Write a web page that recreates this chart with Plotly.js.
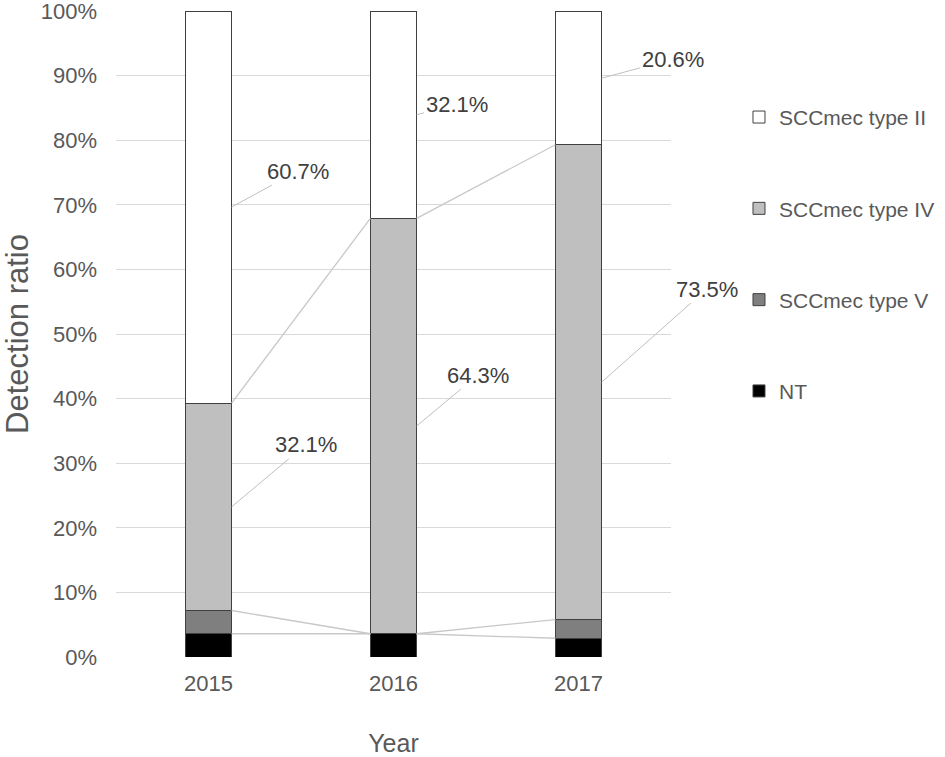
<!DOCTYPE html>
<html>
<head>
<meta charset="utf-8">
<script src="https://cdn.plot.ly/plotly-3.0.1.min.js"></script>
<style>
  html, body { margin: 0; padding: 0; background: #fff; }
  #chart { width: 945px; height: 757px; }
</style>
</head>
<body>
<div id="chart"></div>
<script>
// Detection ratio of SCCmec types per year (percent of isolates).
const years = ["2015", "2016", "2017"];
const seriesNames = ["NT", "SCCmec type V", "SCCmec type IV", "SCCmec type II"];
const ntVals = [3.6, 3.6, 2.9];
const typeVVals = [3.6, 0, 2.9];
const typeIVVals = [32.1, 64.3, 73.5];
const typeIIVals = [60.7, 32.1, 20.6];
const labelled = [2, 3]; // series that carry value labels (IV, II)

const FILLS = ["#000000", "#7f7f7f", "#bfbfbf", "#ffffff"];
const TEXT = "#595959";
const BAR_W = 0.25;

const values = [ntVals, typeVVals, typeIVVals, typeIIVals];
const xs = years.map((_, i) => i);

// cumulative tops of each segment
const tops = [];
let run = years.map(() => 0);
for (const v of values) {
  run = run.map((r, i) => r + v[i]);
  tops.push(run.slice());
}

const data = [];

// stacked from the bottom (NT) up; legend ranks put type II on top
values.forEach((v, s) => {
  data.push({
    type: "bar", name: seriesNames[s], x: xs, y: v, width: BAR_W,
    legendgroup: "g" + s, legendrank: values.length - s,
    marker: { color: FILLS[s], line: { color: "#404040", width: 1 } },
  });
});

// Excel-style series lines between neighbouring bars
for (let s = 0; s < values.length - 1; s++) {
  const lx = [], ly = [];
  for (let i = 0; i < years.length - 1; i++) {
    lx.push(i + BAR_W / 2, i + 1 - BAR_W / 2, null);
    ly.push(tops[s][i], tops[s][i + 1], null);
  }
  data.push({
    type: "scatter", mode: "lines", x: lx, y: ly,
    line: { color: "#c8c8c8", width: 1.3 },
    hoverinfo: "skip", showlegend: false,
  });
}

// label offsets in pixels, per [series][year]
const offsets = {
  2: [[74, -62], [61, -51], [105, -93]],
  3: [[66, -36], [40, -10], [71, -19]],
};

const annotations = [];
for (const s of labelled) {
  years.forEach((_, i) => {
    const base = tops[s][i] - values[s][i];
    annotations.push({
      x: i + BAR_W / 2, y: base + values[s][i] / 2,
      xref: "x", yref: "y",
      text: values[s][i].toFixed(1) + "%",
      showarrow: true, arrowhead: 0, arrowwidth: 1, arrowcolor: "#c0c0c0",
      ax: offsets[s][i][0], ay: offsets[s][i][1],
      font: { size: 22, color: "#404040" },
    });
  });
}

const layout = {
  width: 945, height: 757,
  paper_bgcolor: "#fff", plot_bgcolor: "#fff",
  font: { family: "Liberation Sans, Arial, sans-serif", color: TEXT, size: 22 },
  margin: { l: 116, r: 274, t: 11, b: 100 },
  barmode: "stack",
  xaxis: {
    range: [-0.5, 2.5], tickvals: xs, ticktext: years,
    showgrid: false, zeroline: false, showline: false,
    ticks: "outside", ticklen: 7, tickcolor: "rgba(0,0,0,0)",
    tickfont: { size: 22, color: TEXT },
    title: { text: "Year", font: { size: 25, color: TEXT }, standoff: 46 },
  },
  yaxis: {
    range: [0, 100], dtick: 10, ticksuffix: "%",
    gridcolor: "#d9d9d9", gridwidth: 1, zeroline: false, showline: false,
    ticklabelstandoff: 18, ticklabeloverflow: "allow",
    tickfont: { size: 22, color: TEXT },
    title: { text: "Detection ratio", font: { size: 31, color: TEXT }, standoff: 20 },
  },
  legend: {
    xref: "container", yref: "container",
    x: 0.782, y: 0.872, xanchor: "left", yanchor: "top",
    traceorder: "grouped", tracegroupgap: 61,
    font: { size: 21, color: TEXT }, itemwidth: 30,
  },
  annotations,
};

Plotly.newPlot("chart", data, layout, { displayModeBar: false, staticPlot: true });
</script>
</body>
</html>
